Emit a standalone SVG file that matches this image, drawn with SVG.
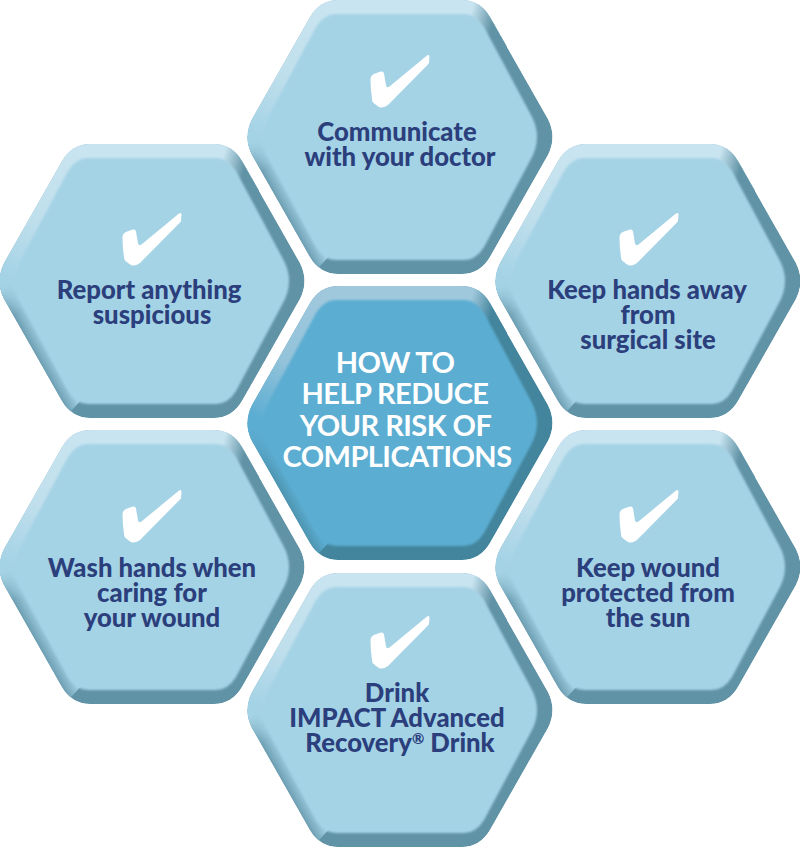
<svg xmlns="http://www.w3.org/2000/svg" xmlns:xlink="http://www.w3.org/1999/xlink" width="800" height="847" viewBox="0 0 800 847">
<style>
text{font-family:"Lato","Liberation Sans",sans-serif;text-anchor:middle}
.t{font-size:25.700px;font-weight:900;fill:#2b3f7c}
.c{font-size:29px;font-weight:700;fill:#fff;letter-spacing:-.55px}
.check{fill:#fff}
</style>
<defs>
<path id="outer" d="M-62,-137H62Q80,-137 90,-120L148,-18Q157,0 148,18L90,120Q80,137 62,137H-62Q-80,137 -90,120L-148,18Q-157,0 -148,-18L-90,-120Q-80,-137 -62,-137Z"/>
<path id="inner" d="M-64,-123H64Q76,-123 84,-110L131,-22Q143,0 131,22L84,110Q76,123 64,123H-64Q-76,123 -84,110L-131,22Q-143,0 -131,-22L-84,-110Q-76,-123 -64,-123Z"/>
<path id="tick" d="M27,-81.500Q29.500,-83 29.500,-80L29,-74.500Q29,-73.500 28,-72.500L-12,-32Q-16,-29 -20,-29.500Q-23,-31 -27,-34.500Q-28,-36 -28,-38Q-29.500,-48 -29.500,-57.500Q-29.500,-62 -25,-63.500L-19,-65.500Q-16.500,-66 -16,-63.500L-14,-51.500Q-13,-48.500 -10.500,-50.500Z"/>
<clipPath id="oc"><use xlink:href="#outer"/></clipPath>
<filter id="b" x="-10%" y="-10%" width="120%" height="120%"><feGaussianBlur stdDeviation="1.200"/></filter>
<linearGradient id="lt" gradientUnits="userSpaceOnUse" x1="-70" y1="-125" x2="-148" y2="-8"><stop offset="0" stop-color="#c8e4f0"/><stop offset=".55" stop-color="#c0dfec"/><stop offset="1" stop-color="#a5d3e6"/></linearGradient>
<linearGradient id="tr" gradientUnits="userSpaceOnUse" x1="72" y1="-128" x2="95" y2="-122"><stop offset="0" stop-color="#6193a6" stop-opacity="0"/><stop offset="1" stop-color="#6193a6"/></linearGradient>
<linearGradient id="ll" gradientUnits="userSpaceOnUse" x1="-122" y1="70" x2="-106" y2="61"><stop offset="0" stop-color="#6193a6"/><stop offset="1" stop-color="#a5d3e6"/></linearGradient>
<linearGradient id="lv" gradientUnits="userSpaceOnUse" x1="-150" y1="6" x2="-135" y2="32"><stop offset="0" stop-color="#a5d3e6"/><stop offset="1" stop-color="#a5d3e6" stop-opacity="0"/></linearGradient>
<linearGradient id="ltc" gradientUnits="userSpaceOnUse" x1="-70" y1="-125" x2="-148" y2="-8"><stop offset="0" stop-color="#a0c8dd"/><stop offset=".55" stop-color="#93c3da"/><stop offset="1" stop-color="#5cadd2"/></linearGradient>
<linearGradient id="trc" gradientUnits="userSpaceOnUse" x1="72" y1="-128" x2="95" y2="-122"><stop offset="0" stop-color="#43859c" stop-opacity="0"/><stop offset="1" stop-color="#43859c"/></linearGradient>
<linearGradient id="llc" gradientUnits="userSpaceOnUse" x1="-122" y1="70" x2="-108" y2="62"><stop offset="0" stop-color="#4a8fa8"/><stop offset="1" stop-color="#5cadd2"/></linearGradient>
<linearGradient id="lvc" gradientUnits="userSpaceOnUse" x1="-150" y1="6" x2="-125" y2="50"><stop offset="0" stop-color="#5cadd2"/><stop offset="1" stop-color="#5cadd2" stop-opacity="0"/></linearGradient>
<g id="hex" clip-path="url(#oc)">
<use xlink:href="#outer" fill="#6193a6"/>
<path fill="url(#lt)" d="M-170,-1L-90,-150H110L100,-100L0,-1Z"/>
<path fill="url(#tr)" d="M60,-150H120L120,-90L60,-90Z"/>
<path fill="url(#ll)" d="M-170,-1L-92,142L-68,116L-125,-1Z"/>
<path fill="url(#lv)" d="M-170,-1L-92,142L-68,116L-125,-1Z"/>
<use xlink:href="#inner" fill="#a5d3e6" filter="url(#b)"/>
</g>
<g id="hexc" clip-path="url(#oc)">
<use xlink:href="#outer" fill="#43859c"/>
<path fill="url(#ltc)" d="M-170,-1L-90,-150H110L100,-100L0,-1Z"/>
<path fill="url(#trc)" d="M60,-150H120L120,-90L60,-90Z"/>
<path fill="url(#llc)" d="M-170,-1L-92,142L-68,116L-125,-1Z"/>
<path fill="url(#lvc)" d="M-170,-1L-92,142L-68,116L-125,-1Z"/>
<use xlink:href="#inner" fill="#5cadd2" filter="url(#b)"/>
</g>
</defs>
<g id="node-top" transform="translate(400,137)">
<use xlink:href="#hex"/><use xlink:href="#tick" class="check"/>
<text class="t" x="-3" y="3.500">Communicate</text><text class="t" y="28.500">with your doctor</text>
</g>
<g id="node-upper-left" transform="translate(152,281)">
<use xlink:href="#hex"/><use xlink:href="#tick" class="check" y="14"/>
<text class="t" x="-3" y="17.500">Report anything</text><text class="t" y="42.500">suspicious</text>
</g>
<g id="node-upper-right" transform="translate(648,281)">
<use xlink:href="#hex"/><use xlink:href="#tick" class="check" x="1" y="14"/>
<text class="t" x="-1" y="17.500">Keep hands away</text><text class="t" y="42.500">from</text><text class="t" y="68">surgical site</text>
</g>
<g id="node-center" transform="translate(400,423)">
<use xlink:href="#hexc"/>
<text class="c" x="-5" y="-50.500">HOW TO</text><text class="c" x="-5" y="-19.500">HELP REDUCE</text><text class="c" x="-4.500" y="12.500">YOUR RISK OF</text><text class="c" x="-3" y="43.500">COMPLICATIONS</text>
</g>
<g id="node-lower-left" transform="translate(152,567)">
<use xlink:href="#hex"/><use xlink:href="#tick" class="check" y="5"/>
<text class="t" y="9.500">Wash hands when</text><text class="t" y="34.500">caring for</text><text class="t" y="59.500">your wound</text>
</g>
<g id="node-lower-right" transform="translate(648,567)">
<use xlink:href="#hex"/><use xlink:href="#tick" class="check" x="1" y="5"/>
<text class="t" y="9.500">Keep wound</text><text class="t" y="34.500">protected from</text><text class="t" y="59.500">the sun</text>
</g>
<g id="node-bottom" transform="translate(400,710)">
<use xlink:href="#hex"/><use xlink:href="#tick" class="check" y="-12"/>
<text class="t" x="-3" y="-8.500">Drink</text><text class="t" x="-3" y="16.500">IMPACT Advanced</text><text class="t" y="41.500">Recovery<tspan font-size="15" dy="-8">®</tspan><tspan dy="8"> Drink</tspan></text>
</g>
<g id="connectors"/>
</svg>
